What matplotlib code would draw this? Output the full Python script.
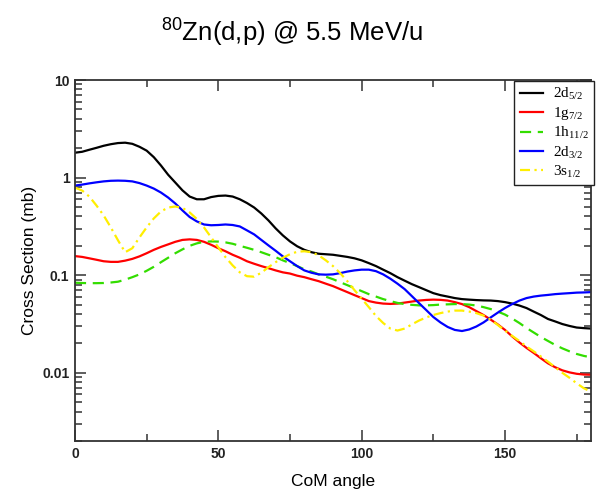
import numpy as np
import matplotlib
matplotlib.use("Agg")
import matplotlib.pyplot as plt
from matplotlib.ticker import FixedLocator, FixedFormatter, LogLocator, NullFormatter

plt.rcParams['font.family'] = ['Liberation Sans', 'DejaVu Sans']
plt.rcParams['mathtext.default'] = 'regular'

# Centre-of-mass angle grid (degrees), 2.5 degree steps
angle = np.arange(0, 180.1, 2.5)

# Differential cross sections (mb) for each transferred orbital
xs_2d52 = [1.80, 1.84, 1.93, 2.02, 2.12, 2.20, 2.26, 2.28, 2.22, 2.07, 1.89, 1.62, 1.33,
           1.07, 0.89, 0.74, 0.64, 0.60, 0.60, 0.632, 0.65, 0.655, 0.64, 0.60, 0.549,
           0.494, 0.429, 0.364, 0.302, 0.256, 0.222, 0.198, 0.182, 0.172, 0.166, 0.164,
           0.162, 0.158, 0.154, 0.149, 0.142, 0.133, 0.124, 0.114, 0.105, 0.0955,
           0.0879, 0.081, 0.0755, 0.0703, 0.0655, 0.0625, 0.0604, 0.0583, 0.0569,
           0.0562, 0.0556, 0.0552, 0.055, 0.0543, 0.053, 0.0512, 0.0489, 0.0461,
           0.0424, 0.0391, 0.0356, 0.0336, 0.0316, 0.0302, 0.0291, 0.0287, 0.0284]
xs_1g72 = [0.157, 0.154, 0.149, 0.144, 0.139, 0.137, 0.137, 0.141, 0.147, 0.156, 0.168,
           0.182, 0.195, 0.207, 0.220, 0.230, 0.233, 0.230, 0.220, 0.205, 0.189, 0.176,
           0.162, 0.151, 0.139, 0.131, 0.124, 0.118, 0.112, 0.107, 0.104, 0.0989,
           0.0955, 0.091, 0.0869, 0.0819, 0.0773, 0.072, 0.0671, 0.0625, 0.0583,
           0.0543, 0.0524, 0.0512, 0.0508, 0.0512, 0.0524, 0.0537, 0.055, 0.0558,
           0.0562, 0.0559, 0.055, 0.053, 0.0506, 0.0471, 0.0429, 0.0391, 0.0351,
           0.0313, 0.0275, 0.0236, 0.0205, 0.018, 0.016, 0.0141, 0.0125, 0.0114,
           0.0106, 0.0101, 0.00977, 0.0096, 0.00955]
xs_1h112 = [0.0838, 0.0832, 0.0829, 0.0829, 0.0832, 0.0842, 0.0858, 0.090, 0.0955, 0.102,
            0.111, 0.122, 0.136, 0.151, 0.168, 0.184, 0.200, 0.212, 0.220, 0.222, 0.221,
            0.217, 0.210, 0.200, 0.191, 0.182, 0.172, 0.162, 0.153, 0.142, 0.133, 0.124,
            0.115, 0.109, 0.102, 0.0966, 0.091, 0.0848, 0.0791, 0.0737, 0.0687, 0.064,
            0.0604, 0.0569, 0.0543, 0.052, 0.0506, 0.0497, 0.0491, 0.0491, 0.0494,
            0.050, 0.0503, 0.0506, 0.0506, 0.050, 0.0489, 0.0471, 0.045, 0.0424,
            0.0395, 0.036, 0.0324, 0.0288, 0.0259, 0.0233, 0.0212, 0.0193, 0.0178,
            0.0166, 0.0156, 0.0149, 0.0144]
xs_2d32 = [0.829, 0.848, 0.873, 0.895, 0.915, 0.928, 0.932, 0.928, 0.915, 0.879, 0.829,
           0.772, 0.703, 0.625, 0.543, 0.461, 0.395, 0.356, 0.331, 0.325, 0.327, 0.331,
           0.327, 0.316, 0.288, 0.262, 0.230, 0.202, 0.178, 0.156, 0.139, 0.124, 0.112,
           0.106, 0.102, 0.1013, 0.102, 0.105, 0.109, 0.112, 0.114, 0.114, 0.110, 0.102,
           0.0921, 0.0819, 0.072, 0.0611, 0.0518, 0.044, 0.0373, 0.0328, 0.0295,
           0.0275, 0.0268, 0.0278, 0.0298, 0.0328, 0.0369, 0.0414, 0.0461, 0.0506,
           0.0549, 0.0583, 0.0604, 0.0618, 0.0628, 0.064, 0.0648, 0.0655, 0.0663,
           0.0666, 0.0671]
xs_3s12 = [0.791, 0.737, 0.640, 0.518, 0.410, 0.309, 0.228, 0.172, 0.189, 0.244, 0.309,
           0.382, 0.450, 0.494, 0.506, 0.489, 0.440, 0.377, 0.309, 0.244, 0.193, 0.153,
           0.126, 0.107, 0.0977, 0.0966, 0.106, 0.121, 0.136, 0.151, 0.164, 0.174,
           0.176, 0.172, 0.160, 0.142, 0.124, 0.105, 0.0869, 0.0703, 0.0576, 0.0471,
           0.0382, 0.0324, 0.0284, 0.0271, 0.0284, 0.0313, 0.0343, 0.0369, 0.0391,
           0.0409, 0.0424, 0.0434, 0.0434, 0.0424, 0.0409, 0.0386, 0.0351, 0.0309,
           0.0271, 0.0239, 0.0212, 0.0186, 0.0166, 0.0147, 0.013, 0.0114, 0.010,
           0.00889, 0.00781, 0.00695, 0.0064]

series = [
    (xs_2d52, '2d$_{5/2}$', '#000000', '-'),
    (xs_1g72, '1g$_{7/2}$', '#ff0000', '-'),
    (xs_1h112, '1h$_{11/2}$', '#33dd00', (0, (5, 3))),
    (xs_2d32, '2d$_{3/2}$', '#0000ff', '-'),
    (xs_3s12, '3s$_{1/2}$', '#ffee00', (0, (4.5, 2, 1, 2))),
]

x_major = [0, 50, 100, 150]
x_minor = [25, 75, 125, 175]
y_major = [0.01, 0.1, 1, 10]
y_major_labels = ['0.01', '0.1', '1', '10']

fig = plt.figure(figsize=(5.96, 4.91), dpi=100)
ax = fig.add_axes([0.1258, 0.1018, 0.8658, 0.7352])

for vals, lab, col, ls in series:
    ax.plot(angle, vals, color=col, linestyle=ls, linewidth=1.6, label=lab)

ax.set_yscale('log')
ax.set_xlim(0, 180)
ax.set_ylim(0.002, 10)

ax.xaxis.set_major_locator(FixedLocator(x_major))
ax.xaxis.set_minor_locator(FixedLocator(x_minor))
ax.yaxis.set_major_locator(FixedLocator(y_major))
ax.yaxis.set_major_formatter(FixedFormatter(y_major_labels))
ax.yaxis.set_minor_locator(LogLocator(base=10, subs=np.arange(2, 10)))
ax.yaxis.set_minor_formatter(NullFormatter())

ax.tick_params(which='both', direction='in', top=True, right=True, color='#333333')
ax.tick_params(which='major', length=8, width=1.1, labelsize=10, pad=4)
ax.tick_params(which='minor', length=5, width=1.1)
for lbl in ax.get_xticklabels() + ax.get_yticklabels():
    lbl.set_fontweight('bold')
    lbl.set_color('#222222')
for sp in ax.spines.values():
    sp.set_linewidth(1.3)
    sp.set_color('#333333')

ax.set_xlabel('CoM angle', fontsize=12.5, labelpad=10)
ax.set_ylabel('Cross Section (mb)', fontsize=12.5, labelpad=4,
              family=['Liberation Sans Narrow', 'Liberation Sans'])

fig.text(0.49, 0.915, '$^{80}$Zn(d,p) @ 5.5 MeV/u', ha='center', va='baseline',
         fontsize=18.5)

leg = ax.legend(loc='upper right', bbox_to_anchor=(1.005, 0.998), frameon=True,
                fancybox=False, edgecolor='#222222', framealpha=1,
                prop={'family': 'Liberation Serif', 'size': 11},
                handlelength=1.5, handletextpad=0.65, labelspacing=0.2,
                borderpad=0.35, borderaxespad=0)
leg.get_frame().set_linewidth(1.0)

fig.savefig('out.png', dpi=100)
